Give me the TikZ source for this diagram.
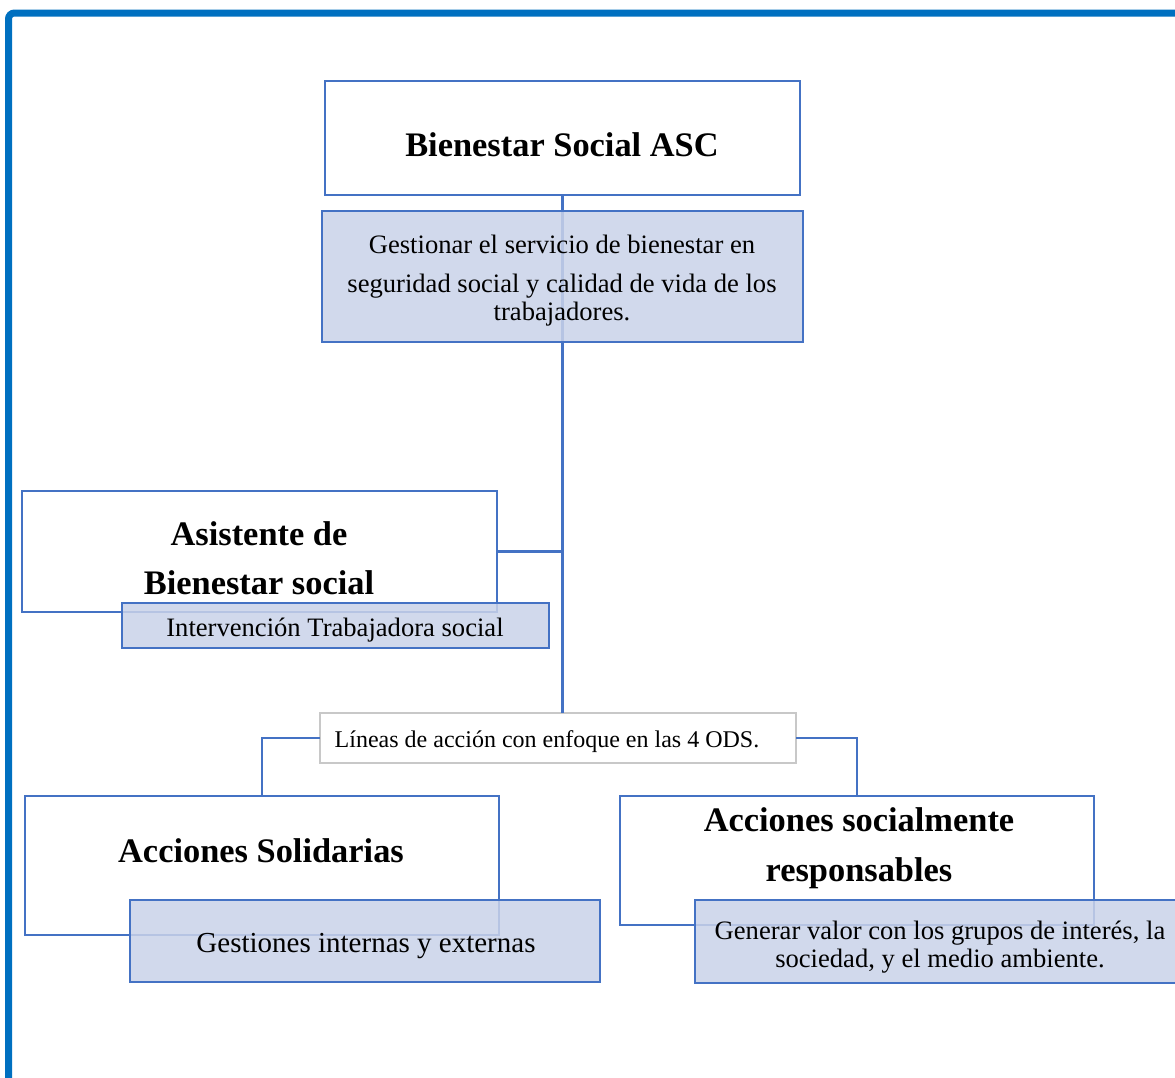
\documentclass[tikz,border=0pt]{standalone}
\usepackage{fontspec}
\setmainfont{Liberation Serif}
\definecolor{framecol}{HTML}{0070C0}
\definecolor{boxline}{HTML}{4472C4}
\definecolor{boxfill}{RGB}{202,211,233}
\definecolor{grayline}{HTML}{C8C8C8}
\tikzset{
  whitebox/.style={draw=boxline, line width=1.25pt, fill=white, inner sep=0pt, outer sep=0pt, anchor=north west},
  shadebox/.style={draw=boxline, line width=1.25pt, fill=boxfill, fill opacity=0.85, draw opacity=1, inner sep=0pt, outer sep=0pt, anchor=north west},
  graybox/.style={draw=grayline, line width=0.8pt, fill=white, inner sep=0pt, outer sep=0pt, anchor=north west},
  conn/.style={draw=boxline, line width=1.25pt},
  title/.style={font=\bfseries\fontsize{17.2}{24.5}\selectfont, align=center, inner sep=0pt},
  body/.style={font=\fontsize{13.3}{14}\selectfont, align=center, inner sep=0pt},
}
\begin{document}
\begin{tikzpicture}[x=0.5pt, y=-0.5pt]
\useasboundingbox (0,0) rectangle (1175,1078);
\fill[white] (0,0) rectangle (1175,1078);

% outer frame (only top and left sides fall inside the page)
\draw[framecol, line width=3.5pt, rounded corners=3pt] (8.5,1200) -- (8.5,13) -- (1250,13);

% boxes
\node[whitebox, minimum width=237.5pt, minimum height=57pt] (top) at (325,81) {};
\node[whitebox, minimum width=237.5pt, minimum height=60.5pt] (asis) at (22,491) {};
\node[graybox, minimum width=238pt, minimum height=25pt] (lineas) at (320,713) {};
\node[whitebox, minimum width=237pt, minimum height=69.5pt] (solid) at (25,796) {};
\node[whitebox, minimum width=237pt, minimum height=64.5pt] (resp) at (620,796) {};

% connectors
\draw[conn] (top.south) -- (top.south |- lineas.north);
\draw[conn] (asis.east) -- (asis.east -| top.south);
\draw[conn] (lineas.west) -| (solid.north);
\draw[conn] (lineas.east) -| (resp.north);

% shaded boxes (translucent, drawn over the rest)
\node[shadebox, minimum width=240.5pt, minimum height=65.5pt] (goal) at (322,211) {};
\node[shadebox, minimum width=213.5pt, minimum height=22.5pt] (interv) at (122,603) {};
\node[shadebox, minimum width=235pt, minimum height=41pt] (gest) at (130,900) {};
\node[shadebox, minimum width=243.5pt, minimum height=41.5pt] (gen) at (695,900) {};

% texts
\node[title] (toptxt) at (562,145) {Bienestar Social ASC};
\node[body] (goaltxt) at (562,281) {Gestionar el servicio de bienestar en\\[5.5pt]seguridad social y calidad de vida de los\\trabajadores.};
\node[title] (asistxt) at (259,558) {Asistente de\\Bienestar social};
\node[body] (intervtxt) at (335,630) {Intervención Trabajadora social};
\node[body, font=\fontsize{12}{14}\selectfont] (lineastxt) at (547,742) {Líneas de acción con enfoque en las 4 ODS.};
\node[title] (solidtxt) at (261,851) {Acciones Solidarias};
\node[body, font=\fontsize{14.5}{16}\selectfont] (gesttxt) at (366,946) {Gestiones internas y externas};
\node[title, font=\bfseries\fontsize{17.2}{25}\selectfont] (resptxt) at (859,848) {Acciones socialmente\\responsables};
\node[body] (gentxt) at (940,947) {Generar valor con los grupos de interés, la\\sociedad, y el medio ambiente.};
\end{tikzpicture}
\end{document}
